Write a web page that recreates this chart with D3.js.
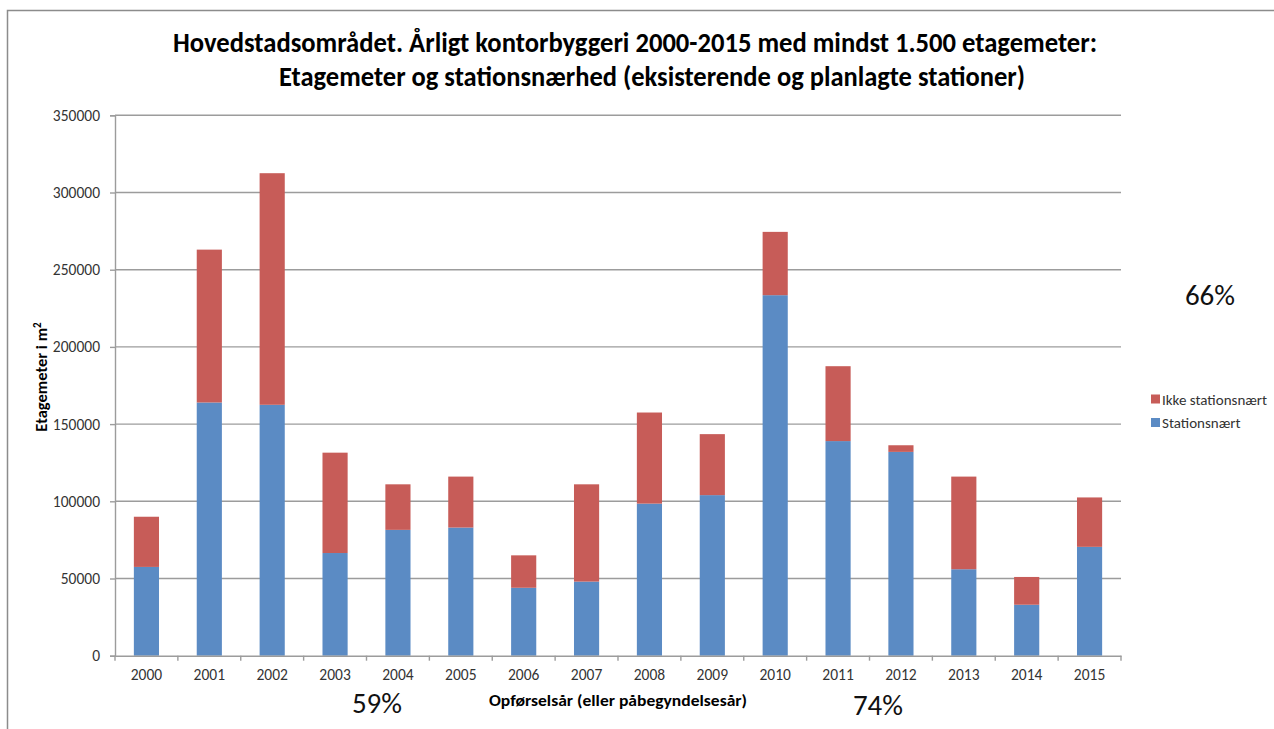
<!DOCTYPE html>
<html>
<head>
<meta charset="utf-8">
<script src="https://cdn.jsdelivr.net/npm/d3@7"></script>
<style>
  html, body { margin: 0; padding: 0; background: #fff; }
  svg { display: block; }
  text { font-family: Carlito, Calibri, Lato, "Open Sans", sans-serif; }
</style>
</head>
<body>
<svg id="chart" width="1274" height="729"></svg>
<script>
// ---- data ----
const years = ["2000","2001","2002","2003","2004","2005","2006","2007","2008","2009","2010","2011","2012","2013","2014","2015"];
const stationsnaert = [57500,164000,162500,66500,81500,83000,44000,48000,98500,104000,233500,139000,132000,56000,33000,70500];
const ikkeStationsnaert = [32500,99000,150000,65000,29500,33000,21000,63000,59000,39500,41000,48500,4300,60000,18000,32000];
const seriesNames = ["Stationsnært","Ikke stationsnært"];
const seriesColors = ["#5b8bc4","#c75c58"];
const yTicks = [0,50000,100000,150000,200000,250000,300000,350000];
const titleLines = ["Hovedstadsområdet. Årligt kontorbyggeri 2000-2015 med mindst 1.500 etagemeter:",
                    "Etagemeter og stationsnærhed (eksisterende og planlagte stationer)"];
const xTitle = "Opførselsår (eller påbegyndelsesår)";
const yTitle = "Etagemeter i m";
const shareLabels = [{text:"59%", x:377, y:713},{text:"74%", x:878, y:715},{text:"66%", x:1210, y:305}];

(function () {
// ---- layout ----
const svg = d3.select("#chart");
const pLeft = 115, pRight = 1121, pTop = 115.3, pBottom = 655.7;

// frame border
svg.append("path").attr("d","M7.5,729 L7.5,10.5 L1274,10.5")
  .attr("fill","none").attr("stroke","#8c8c8c").attr("stroke-width",1.5);

const x = d3.scaleBand().domain(years).range([pLeft, pRight]).paddingInner(0.6).paddingOuter(0.3);
const y = d3.scaleLinear().domain([0, 350000]).range([pBottom, pTop]);

// gridlines
svg.append("g").selectAll("line").data(yTicks.filter(d => d > 0)).join("line")
  .attr("x1", pLeft).attr("x2", pRight)
  .attr("y1", d => y(d)).attr("y2", d => y(d))
  .attr("stroke", "#9c9c9c").attr("stroke-width", 1.4);

// stacked bars
const rows = years.map((yr, i) => ({year: yr, s: stationsnaert[i], ik: ikkeStationsnaert[i]}));
const stack = d3.stack().keys(["s","ik"])(rows);
svg.append("g").selectAll("g").data(stack).join("g")
  .attr("fill", (d, i) => seriesColors[i])
  .selectAll("rect").data(d => d).join("rect")
  .attr("x", d => x(d.data.year))
  .attr("width", x.bandwidth())
  .attr("y", d => y(d[1]))
  .attr("height", d => y(d[0]) - y(d[1]));

// y axis
const yAxis = d3.axisLeft(y).tickValues(yTicks).tickFormat(d3.format("d")).tickSizeOuter(0).tickSize(5).tickPadding(10);
const gy = svg.append("g").attr("transform", `translate(${pLeft},0)`).call(yAxis);
gy.select(".domain").attr("stroke", "#9c9c9c").attr("stroke-width", 1.4);
gy.selectAll(".tick line").attr("stroke", "#9c9c9c").attr("stroke-width", 1.4);
gy.selectAll(".tick text").attr("fill", "#333").style("font-size", "15.5px");

// x axis
const xAxis = d3.axisBottom(x).tickSize(0).tickSizeOuter(0).tickPadding(13);
const gx = svg.append("g").attr("transform", `translate(0,${pBottom})`).call(xAxis);
gx.select(".domain").attr("stroke", "#9c9c9c").attr("stroke-width", 1.4);
gx.selectAll(".tick text").attr("fill", "#333").style("font-size", "15.5px");
// category boundary ticks
const bounds = d3.range(years.length + 1).map(i => pLeft + i * (pRight - pLeft) / years.length);
gx.append("g").selectAll("line").data(bounds).join("line")
  .attr("x1", d => d).attr("x2", d => d).attr("y1", 0).attr("y2", 5)
  .attr("stroke", "#9c9c9c").attr("stroke-width", 1.4);

// title
const tl = [{x:173, y:52, w:924},{x:279, y:86, w:746}];
svg.append("g").selectAll("text").data(titleLines).join("text")
  .attr("x", (d, i) => tl[i].x).attr("y", (d, i) => tl[i].y)
  .attr("textLength", (d, i) => tl[i].w).attr("lengthAdjust", "spacingAndGlyphs")
  .style("font-size", "28px").style("font-weight", "bold").attr("fill", "#000")
  .text(d => d);

// axis titles
svg.append("text").attr("x", 618).attr("y", 706).attr("text-anchor", "middle")
  .attr("textLength", 258).attr("lengthAdjust", "spacingAndGlyphs")
  .style("font-size", "16.5px").style("font-weight", "bold").attr("fill", "#000").text(xTitle);
const yt = svg.append("text").attr("transform", "translate(47,377) rotate(-90)").attr("text-anchor", "middle")
  .style("font-size", "16.5px").style("font-weight", "bold").attr("fill", "#000");
yt.append("tspan").text(yTitle);
yt.append("tspan").attr("dy", -6).style("font-size", "11px").text("2");

// legend
const legend = svg.append("g");
const legendItems = [{name: seriesNames[1], color: seriesColors[1], y: 399}, {name: seriesNames[0], color: seriesColors[0], y: 422.5}];
legendItems.forEach(it => {
  legend.append("rect").attr("x", 1151).attr("y", it.y - 4.5).attr("width", 9).attr("height", 9).attr("fill", it.color);
  legend.append("text").attr("x", 1162).attr("y", it.y + 5.5).style("font-size", "15px").attr("fill", "#333").text(it.name);
});

// share labels
svg.append("g").selectAll("text").data(shareLabels).join("text")
  .attr("x", d => d.x).attr("y", d => d.y).attr("text-anchor", "middle")
  .style("font-size", "29px").attr("fill", "#111").text(d => d.text);
})();
</script>
</body>
</html>
